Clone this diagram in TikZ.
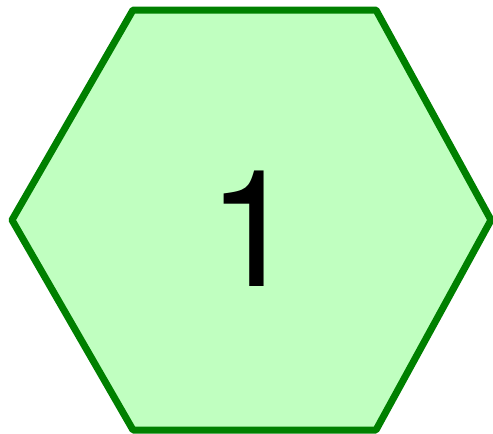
\documentclass[tikz,border=0pt]{standalone}
\usepackage{fontspec}
\setmainfont{TeX Gyre Heros}

\definecolor{hexfill}{HTML}{C0FFC0}
\definecolor{hexline}{HTML}{008000}

\begin{document}
\begin{tikzpicture}[x=1pt, y=-1pt]
        \useasboundingbox (0, 0) rectangle (493, 434);
        % hexagon
        \draw[hexline, fill=hexfill, line width=7pt, line join=round]
            (133, 10) -- (376, 10) -- (491, 220) -- (376, 430)
            -- (133, 430) -- (12, 220) -- cycle;
        \node[anchor=base, inner sep=0pt] (label) at (253, 286)
            {\fontsize{163}{163}\selectfont 1};
    \end{tikzpicture}
\end{document}
